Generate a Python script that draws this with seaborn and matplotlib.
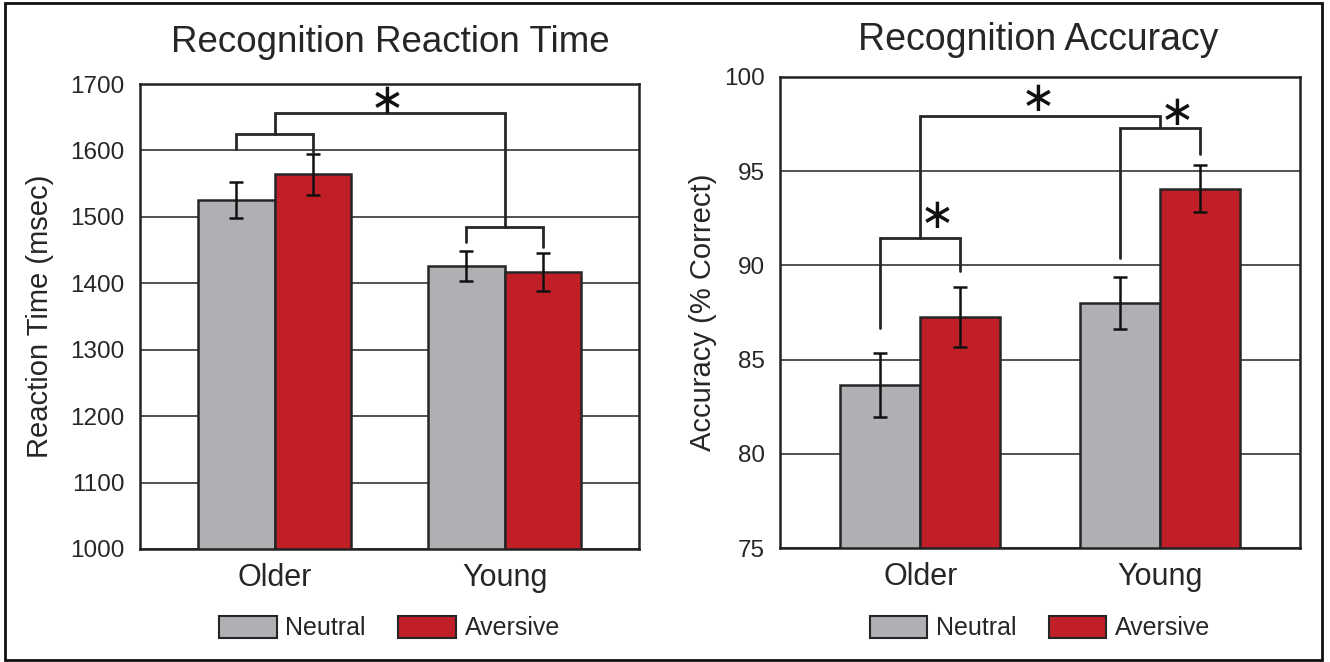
import matplotlib
matplotlib.use("Agg")
import matplotlib.pyplot as plt
from matplotlib.patches import Rectangle
import seaborn as sns
import pandas as pd

# values
groups = ["Older", "Young"]
conditions = ["Neutral", "Aversive"]

rt_neutral = [1525, 1426]
rt_neutral_err = [27, 22]
rt_aversive = [1564, 1417]
rt_aversive_err = [31, 28]

acc_neutral = [83.65, 88.0]
acc_neutral_err = [1.7, 1.4]
acc_aversive = [87.25, 94.08]
acc_aversive_err = [1.6, 1.25]

# significance brackets: (top, left leg end, right leg end)
rt_old_bracket = (1624, 1602, 1597)
rt_young_bracket = (1485, 1462, 1455)
rt_main_level = 1657
acc_old_bracket = (91.44, 86.7, 89.7)
acc_young_bracket = (97.3, 90.4, 95.9)
acc_main_level = 97.93

colors = {"Neutral": "#afb0b4", "Aversive": "#c01f27"}
EDGE = "#262626"

sns.set_style("white")
plt.rcParams["font.family"] = ["Liberation Sans", "DejaVu Sans"]


def make_frame(neutral, aversive):
    return pd.DataFrame({
        "group": groups * 2,
        "condition": [conditions[0]] * 2 + [conditions[1]] * 2,
        "value": list(neutral) + list(aversive),
    })


def bracket(ax, x1, x2, top, y1, y2):
    ax.plot([x1, x1, x2, x2], [y1, top, top, y2], color=EDGE, lw=2.0,
            solid_joinstyle="miter", zorder=4, clip_on=False)


def star(ax, x, y):
    # math asterisk operator has six spokes, like the reference
    ax.text(x, y, "\u2217", ha="center", va="center", fontsize=30,
            family="DejaVu Sans", color="#111111", zorder=5)


def draw_panel(ax, neutral, n_err, aversive, a_err, ylim, yticks, ylabel):
    df = make_frame(neutral, aversive)
    sns.barplot(data=df, x="group", y="value", hue="condition",
                hue_order=conditions, order=groups, palette=colors,
                saturation=1, width=0.668, edgecolor=EDGE, linewidth=1.8,
                errorbar=None, ax=ax, zorder=2)

    centers = []
    for cont, vals, errs in zip(ax.containers, [neutral, aversive], [n_err, a_err]):
        xs = [p.get_x() + p.get_width() / 2 for p in cont.patches]
        centers.append(xs)
        ax.errorbar(xs, vals, yerr=errs, fmt="none", ecolor="#111111",
                    elinewidth=1.8, capsize=5, capthick=1.8, zorder=3)

    ax.set_xlim(-0.585, 1.585)
    ax.set_ylim(*ylim)
    ax.set_yticks(yticks)
    ax.yaxis.grid(True, color="#222222", lw=1.1)
    ax.set_axisbelow(True)
    for s in ax.spines.values():
        s.set_color("#222222")
        s.set_linewidth(1.8)
        s.set_visible(True)

    ax.tick_params(axis="y", which="major", direction="out", length=5,
                   width=1.2, color="#222222", labelsize=17.5, pad=6)
    ax.tick_params(axis="x", which="major", length=0, labelsize=22, pad=10)
    ax.set_xticks([-0.585, 1.585], minor=True)
    ax.tick_params(axis="x", which="minor", direction="out", length=5,
                   width=1.2, color="#222222")
    ax.set_xlabel("")
    ax.set_ylabel(ylabel, fontsize=21)

    handles, labels = ax.get_legend_handles_labels()
    for h in handles:
        h.set_edgecolor(EDGE)
        h.set_linewidth(1.5)
    ax.legend(handles, labels, loc="center", bbox_to_anchor=(0.5, -0.17),
              ncol=2, frameon=False, fontsize=18, handlelength=2.3,
              handleheight=1.0, handletextpad=0.35, columnspacing=1.3)
    return centers


fig = plt.figure(figsize=(13.3, 6.62), dpi=100)
ax1 = fig.add_axes([0.1053, 0.1707, 0.3752, 0.7024])
ax2 = fig.add_axes([0.5865, 0.1722, 0.3910, 0.7115])

c1 = draw_panel(ax1, rt_neutral, rt_neutral_err, rt_aversive, rt_aversive_err,
                (1000, 1700), range(1000, 1701, 100), "Reaction Time (msec)")
c2 = draw_panel(ax2, acc_neutral, acc_neutral_err, acc_aversive, acc_aversive_err,
                (75, 100), range(75, 101, 5), "Accuracy (% Correct)")

ax1.yaxis.set_label_coords(-0.172, 0.5)
ax2.yaxis.set_label_coords(-0.121, 0.5)

# reaction time brackets
bracket(ax1, c1[0][0], c1[1][0], *rt_old_bracket)
bracket(ax1, c1[0][1], c1[1][1], *rt_young_bracket)
bracket(ax1, 0, 1, rt_main_level, rt_old_bracket[0], rt_young_bracket[0])
star(ax1, 0.49, 1675)

# accuracy brackets
bracket(ax2, c2[0][0], c2[1][0], *acc_old_bracket)
bracket(ax2, c2[0][1], c2[1][1], *acc_young_bracket)
bracket(ax2, 0, 1, acc_main_level, acc_old_bracket[0], acc_young_bracket[0])
star(ax2, 0.07, 92.6)
star(ax2, 0.49, 98.85)
star(ax2, 1.07, 98.1)

fig.text(390 / 1330, 1 - 52 / 662, "Recognition Reaction Time", ha="center",
         va="baseline", fontsize=26.5)
fig.text(1038 / 1330, 1 - 50 / 662, "Recognition Accuracy", ha="center",
         va="baseline", fontsize=27)

fig.patches.append(Rectangle((5 / 1330, 2 / 662), 1317 / 1330, 657 / 662,
                             transform=fig.transFigure, fill=False,
                             edgecolor="#111111", lw=2))

fig.savefig("out.png", dpi=100)
